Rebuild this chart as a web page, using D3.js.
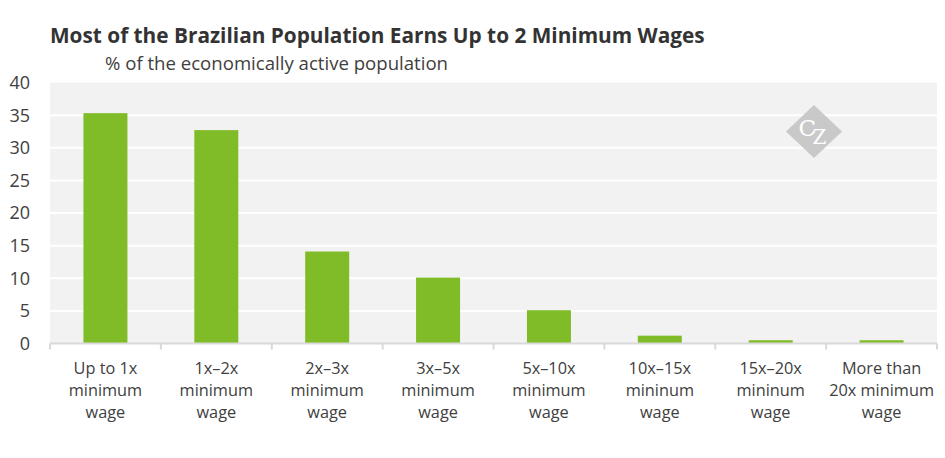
<!DOCTYPE html>
<html><head><meta charset="utf-8">
<script src="https://cdn.jsdelivr.net/npm/d3@7"></script>
<style>
body{margin:0;background:#fff;}
text{font-family:"Open Sans",sans-serif;}
</style></head>
<body>
<svg id="chart" width="945" height="458"></svg>
<script>
const categories = [
  ["Up to 1x","minimum","wage"],
  ["1x\u20132x","minimum","wage"],
  ["2x\u20133x","minimum","wage"],
  ["3x\u20135x","minimum","wage"],
  ["5x\u201310x","minimum","wage"],
  ["10x\u201315x","mininum","wage"],
  ["15x\u201320x","mininum","wage"],
  ["More than","20x minimum","wage"]
];
const values = [35.3, 32.7, 14.1, 10.1, 5.1, 1.2, 0.5, 0.5];
const yTicks = [0, 5, 10, 15, 20, 25, 30, 35, 40];
const title = "Most of the Brazilian Population Earns Up to 2 Minimum Wages";
const subtitle = "% of the economically active population";

const svg = d3.select("#chart");
const pLeft = 50, pRight = 937, pTop = 82.5, pBottom = 343.5;

const xb = d3.scaleBand().domain(d3.range(categories.length)).range([pLeft, pRight]);
const y = d3.scaleLinear().domain([0, 40]).range([pBottom, pTop]);

svg.append("rect").attr("x", pLeft).attr("y", pTop).attr("width", pRight-pLeft).attr("height", pBottom-pTop).attr("fill", "#f2f2f2");

// gridlines
svg.append("g").selectAll("line").data(yTicks.filter(d => d > 0 && d < 40)).join("line")
  .attr("x1", pLeft).attr("x2", pRight)
  .attr("y1", d => y(d)).attr("y2", d => y(d))
  .attr("stroke", "#ffffff").attr("stroke-width", 2);

// watermark
const wm = svg.append("g").attr("transform", "translate(814,131.5)");
wm.append("path").attr("d", "M0,-26.5L28,0L0,26.5L-28,0Z").attr("fill", "#c9c9c9");
const wt = wm.append("text").attr("fill", "#fff")
  .style("font-family", "'DejaVu Serif','Liberation Serif',serif");
wt.append("tspan").attr("x", -15.5).attr("y", 4.5).style("font-size", "23px").text("C");
wt.append("tspan").attr("x", -1.5).attr("y", 12.5).style("font-size", "20px").text("Z");

// bars
svg.append("g").selectAll("rect").data(values).join("rect")
  .attr("x", (d, i) => xb(i) + xb.bandwidth()/2 - 22)
  .attr("width", 44)
  .attr("y", d => y(d))
  .attr("height", d => y(0) - y(d))
  .attr("fill", "#80bb28");

// x axis line and ticks
const ax = svg.append("g");
ax.append("line").attr("x1", pLeft).attr("x2", pRight).attr("y1", pBottom).attr("y2", pBottom)
  .attr("stroke", "#d9d9d9").attr("stroke-width", 2);
const bounds = d3.range(categories.length + 1).map(i => i < categories.length ? xb(i) : xb(i-1) + xb.bandwidth());
ax.selectAll("line.tick").data(bounds).join("line").attr("class", "tick")
  .attr("x1", d => d).attr("x2", d => d).attr("y1", pBottom).attr("y2", pBottom + 6)
  .attr("stroke", "#d9d9d9").attr("stroke-width", 2);

// x labels
const xl = svg.append("g").selectAll("text").data(categories).join("text")
  .attr("text-anchor", "middle").attr("fill", "#404040").style("font-size", "16.3px");
xl.each(function(lines, i) {
  const t = d3.select(this);
  lines.forEach((ln, j) => {
    t.append("tspan").attr("x", xb(i) + xb.bandwidth()/2).attr("y", 374 + j*22).text(ln);
  });
});

// y labels
svg.append("g").selectAll("text").data(yTicks).join("text")
  .attr("x", 30).attr("y", d => y(d)).attr("dy", "0.36em")
  .attr("text-anchor", "end").attr("fill", "#404040").style("font-size", "18px")
  .text(d => d);

// title
svg.append("text").attr("x", 50).attr("y", 43).attr("fill", "#333333")
  .style("font-size", "20.8px").style("font-weight", "bold").text(title);
svg.append("text").attr("x", 105).attr("y", 70).attr("fill", "#404040")
  .style("font-size", "18.6px").text(subtitle);
</script>
</body></html>
